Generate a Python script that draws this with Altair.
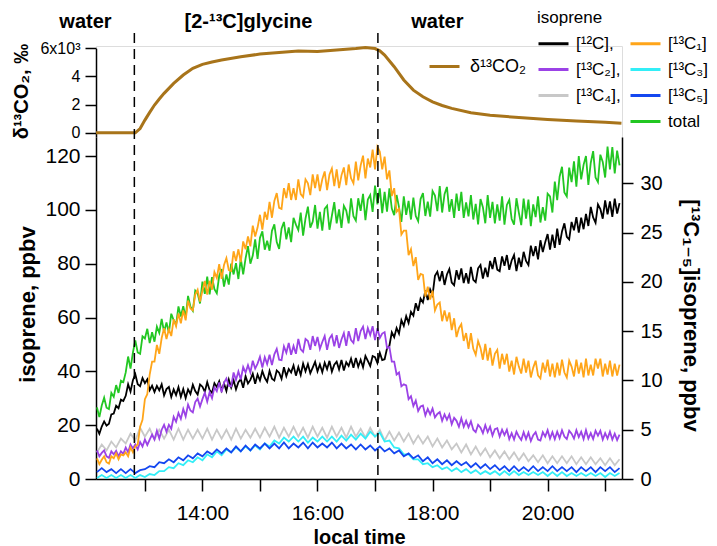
import altair as alt
import pandas as pd

FONT = "Liberation Sans, Arial, Helvetica, DejaVu Sans, sans-serif"

# ---------------- data ----------------
# isoprene records: regular samples starting at ISO_START
ISO_START = "12:10"
FINE_STEP_MIN = 2.5     # total, [12C], [13C1], [13C2]
COARSE_STEP_MIN = 5     # [13C3], [13C4], [13C5]

iso_total = [26.6, 23, 27.3, 30.2, 26.5, 26, 32, 30.5, 34.9, 32, 36.5, 36,
             39.6, 45.5, 41, 47, 51.5, 47, 46.5, 53, 52.2, 55.8, 50.5, 54.5,
             51, 56.6, 54.3, 59.5, 54.6, 58.2, 54.3, 61.4, 59, 57.3, 64.1, 60.4,
             64.2, 60, 68, 64, 62.5, 70, 69, 65.2, 73.3, 68.8, 75.2, 68.6,
             75, 70.5, 69, 75.5, 78, 71.5, 76, 72.2, 80, 76, 80.2, 74.3,
             81.9, 76, 82, 86.5, 80, 83, 89, 81.8, 89.6, 92, 85.2, 88.5,
             84.8, 92.2, 94.6, 88, 85.5, 93, 95.5, 89, 93.5, 88, 97, 94.5,
             92.5, 99, 90.4, 96.8, 101.2, 93.4, 95.6, 101.8, 93, 99.2, 92.3, 100.4,
             101.5, 92.6, 97.8, 102.9, 95, 100.2, 93.3, 101.5, 99.7, 95, 104.3, 97.6,
             96, 104.3, 99.6, 105.9, 96.2, 103.8, 105.5, 99.2, 109, 102, 108, 98.8,
             106.7, 99.3, 108, 100.5, 98, 105.5, 101, 95.5, 105, 98.1, 103.3, 96.4,
             104.5, 97.7, 95.8, 104, 106.2, 97.7, 103, 97.5, 107, 105.3, 99.5, 108.8,
             99, 105.8, 108.5, 99.3, 104, 97, 106, 99.6, 106.7, 97, 102.8, 97.6,
             105.5, 96.4, 102.2, 94.6, 104, 101, 95, 105.5, 97, 103, 95, 102,
             96, 105, 94.5, 101.8, 103.7, 96.6, 94.5, 104.3, 99, 94.3, 104.2, 96.7,
             103.8, 93.9, 102, 97.3, 105, 95.3, 101, 96, 106, 105, 99, 110.5,
             103.6, 112.3, 116, 106.5, 105, 115.7, 110.3, 118, 108.6, 120, 111.3, 116.7,
             120, 109.3, 117.5, 121.8, 112, 110.3, 120.5, 117.8, 112, 123.5, 115, 123.3,
             113.5, 122, 116.5]

iso_12c = [18.7, 16.8, 19.5, 21.4, 19.8, 20.5, 24, 24.3, 27.2, 26.3, 29.5, 29,
           30.9, 35.2, 32.5, 36.7, 38.9, 35.2, 34.5, 37.5, 35.6, 37, 33, 34.7,
           32.3, 34.6, 32.9, 35.2, 31.1, 33.4, 34.2, 30.5, 33.3, 31.2, 34.1, 30.5,
           33.4, 30.1, 33.3, 31.6, 35, 32.7, 31.4, 35.1, 34.3, 32.4, 36, 33,
           32, 35.6, 34.2, 36.3, 32.9, 35.5, 32.7, 36.9, 34, 36.7, 33.3, 36,
           37.1, 33.9, 38.2, 35.5, 36.8, 39.1, 35.4, 38.8, 36.6, 40.1, 37.6, 36.1,
           40.1, 37.3, 36.6, 40.3, 39.5, 37.2, 41.5, 38.2, 40.9, 39.6, 42.2, 38.4,
           41.6, 38.7, 42.9, 40, 42.7, 39.3, 41.4, 43.5, 40, 42.6, 39.7, 43.2,
           40.8, 43.9, 39.9, 42.5, 43.6, 40.7, 44.2, 40.3, 43.4, 42, 44.7, 41.3,
           45, 41.7, 44.3, 41.5, 45.7, 43.9, 42, 45.7, 45.3, 43.1, 46.9, 44.2,
           44.5, 48.5, 49.5, 54.5, 52.7, 56.1, 54, 59, 56.9, 60.5, 58, 62.1,
           60.7, 65.3, 62.5, 67, 65.6, 70, 66.5, 70.4, 68.3, 75.5, 77, 73.5,
           77.2, 72.1, 76, 78, 73, 72, 77.6, 74.1, 78.2, 72.8, 76.5, 72.6,
           78.8, 74, 73.1, 78.3, 79.5, 74.5, 78.5, 75, 81, 78, 82.4, 77.8,
           77.2, 82.7, 79.2, 83.2, 77.7, 81.2, 83.2, 77.2, 82.2, 78.8, 84.4, 81,
           79.5, 86.7, 82.8, 86.5, 81.6, 88.7, 84.3, 88, 91, 85.2, 90.8, 85.9,
           93, 87, 92, 95, 90, 89, 95.5, 92.4, 97.3, 91.5, 97.1, 92.8,
           98.5, 94, 101.1, 97.2, 95.2, 102, 100.3, 96.7, 103.5, 98.3, 103.1, 97.4,
           104.2, 98.6, 102.5]

iso_13c1 = [2.1, 1.5, 1.95, 2.3, 1.7, 1.55, 2.3, 2.1, 2.6, 2.0, 2.5, 2.4,
            2.7, 2.3, 3.2, 2.7, 3.3, 3.5, 5.3, 6.0, 8.1, 8.6, 10.6, 11.9,
            11.9, 13.6, 12.7, 14.3, 15.3, 14.2, 15.2, 14.5, 16.2, 15.5, 16.8, 15.8,
            17.1, 16.1, 18.1, 17.3, 17.1, 18.7, 19.2, 18, 19.1, 20.1, 18.7, 20.1,
            19.2, 21, 20.4, 21.8, 20.3, 21.7, 22.4, 21.2, 21.1, 23.1, 22.1, 23.3,
            22, 24.1, 23.3, 24.6, 23.6, 25.7, 24.6, 25.5, 26.8, 25.3, 27.1, 26.3,
            28.1, 26.5, 28.2, 29, 27.5, 27.4, 29.5, 28.5, 30, 28.3, 29.5, 28.3,
            30.4, 28.9, 28.6, 30.4, 30, 28.8, 30.9, 29.5, 30.9, 29.2, 30.4, 31.2,
            29.3, 30.9, 31.5, 29.7, 31.4, 29.5, 30.8, 31.6, 29.8, 31.9, 30.5, 30,
            32.2, 30.3, 31.8, 32.8, 30.5, 32.5, 31.6, 33.4, 31.4, 33.7, 33.2, 31.4,
            32.7, 30.4, 31.3, 28.7, 29.5, 27.1, 27.4, 24.8, 25.2, 25.2, 22.7, 23.3,
            21.6, 22.5, 20.2, 20.8, 20.7, 18.5, 19.5, 18.2, 19.1, 17.1, 17.7, 17.9,
            16, 17.1, 16, 16.9, 15.1, 16.3, 14.4, 15.3, 15.7, 14, 14.8, 13.2,
            14.8, 13.2, 12.6, 14, 13.3, 12.1, 13.7, 12, 13.3, 11.5, 12.7, 13.1,
            11.2, 12.7, 11.6, 12.7, 10.9, 12, 10.6, 12.4, 11.4, 10.7, 12.2, 10.8,
            12, 10.3, 11.3, 12, 10.5, 10.2, 11.8, 10.8, 12.1, 10.4, 11.7, 10.3,
            11.8, 10.5, 12.1, 10.8, 10.3, 12, 11.4, 10.4, 12.1, 10.7, 11.8, 10.3,
            12.2, 10.5, 11.6, 10.5, 12.2, 11.2, 12.2, 10.4, 11.7, 10.6, 12, 10.4,
            11.7, 10.5, 11.6]

iso_13c2 = [2.9, 2.3, 2.65, 2.9, 2.3, 2.15, 2.8, 2.5, 2.85, 2.3, 2.8, 2.55,
            3.2, 2.7, 3.5, 3.1, 3.5, 3.0, 3.75, 3.3, 4.0, 3.45, 4.0, 4.5,
            4.0, 4.9, 4.1, 5.0, 5.5, 4.8, 5.5, 5.1, 6.3, 5.8, 6.7, 6.1,
            7.1, 6.35, 7.55, 6.95, 6.75, 7.8, 8.15, 7.35, 8.1, 8.75, 7.85, 8.8,
            8.2, 9.3, 8.9, 9.8, 8.8, 9.75, 10.2, 9.45, 9.4, 10.8, 10.05, 10.9,
            10.1, 11.35, 10.8, 11.55, 10.8, 12.0, 11.2, 11.7, 12.4, 11.3, 12.35, 11.65,
            12.6, 11.55, 12.65, 13.2, 12.1, 12.05, 13.45, 12.8, 13.8, 12.6, 13.5, 12.7,
            14.2, 13.15, 12.9, 14.2, 14.0, 13.1, 14.5, 13.5, 14.4, 13.2, 13.9, 14.5,
            13.1, 14.25, 14.6, 13.45, 14.6, 13.3, 14.15, 14.8, 13.5, 15.0, 14.1, 13.8,
            15.3, 14.0, 15.0, 15.45, 14.2, 15.3, 14.6, 15.5, 14.1, 15.3, 14.3, 14.75,
            14.9, 13.3, 13.4, 11.9, 11.9, 10.6, 10.8, 9.4, 9.6, 9.5, 8.1, 8.4,
            7.4, 7.95, 6.9, 7.35, 7.45, 6.45, 7.1, 6.55, 7.15, 6.25, 6.6, 6.8,
            5.9, 6.55, 6.0, 6.55, 5.55, 6.2, 5.9, 5.3, 6.15, 5.3, 5.9, 5.25,
            5.85, 5.0, 4.75, 5.5, 5.2, 4.65, 5.45, 4.75, 5.3, 4.4, 5.05, 5.15,
            4.3, 5.0, 4.45, 5.0, 4.05, 4.65, 4.0, 4.8, 4.3, 3.95, 4.75, 4.05,
            4.7, 3.85, 4.45, 4.75, 4.0, 3.9, 4.75, 4.3, 4.95, 4.1, 4.75, 4.05,
            4.8, 4.15, 4.95, 4.3, 4.05, 4.9, 4.6, 4.1, 4.95, 4.25, 4.8, 4.05,
            4.95, 4.1, 4.65, 4.05, 4.9, 4.4, 4.9, 4.0, 4.65, 4.1, 4.8, 4.0,
            4.6, 3.95, 4.5]

iso_13c3 = [0.1, 0.4, 0.1, 0.4, 0.1, 0.4, 0.1, 0.4, 0.1, 0.4,
            0.2, 0.5, 0.4, 0.8, 0.8, 1.2, 1.1, 1.6, 1.4, 1.9,
            1.7, 2.2, 1.9, 2.5, 2.2, 2.8, 2.4, 3.0, 2.7, 3.2,
            2.8, 3.3, 2.9, 3.4, 3.0, 3.6, 3.3, 3.9, 3.6, 4.2,
            3.8, 4.3, 3.8, 4.3, 3.7, 4.2, 3.8, 4.3, 3.8, 4.3,
            3.8, 4.4, 3.9, 4.5, 4.0, 4.6, 4.1, 4.8, 4.3, 4.7,
            3.8, 3.9, 3.2, 3.1, 2.5, 2.5, 2.0, 2.0, 1.5, 1.6,
            1.2, 1.4, 1.0, 1.2, 0.8, 1.1, 0.7, 1.0, 0.6, 0.9,
            0.5, 0.8, 0.5, 0.8, 0.4, 0.8, 0.4, 0.8, 0.4, 0.7,
            0.4, 0.7, 0.4, 0.7, 0.3, 0.7, 0.3, 0.7, 0.3, 0.6,
            0.3, 0.6, 0.3, 0.6, 0.3, 0.6, 0.2, 0.6, 0.3, 0.6]

iso_13c4 = [2.7, 3.5, 2.9, 3.8, 3.2, 4.1, 3.6, 4.6, 3.9, 5.2,
            4.3, 5.1, 4.0, 5.0, 4.1, 5.0, 4.0, 5.1, 4.0, 5.0,
            4.1, 5.0, 4.1, 5.1, 4.0, 5.0, 4.1, 5.0, 4.0, 5.1,
            4.1, 5.0, 4.2, 5.1, 4.2, 5.2, 4.3, 5.3, 4.2, 5.2,
            4.3, 5.3, 4.3, 5.2, 4.2, 5.3, 4.3, 5.2, 4.2, 5.3,
            4.3, 5.2, 4.2, 5.3, 4.3, 5.1, 4.2, 5.2, 4.3, 5.0,
            3.9, 4.8, 3.9, 4.7, 3.8, 4.6, 3.6, 4.4, 3.6, 4.3,
            3.3, 4.1, 3.2, 3.9, 3.0, 3.6, 2.7, 3.5, 2.5, 3.3,
            2.4, 3.1, 2.2, 2.9, 2.1, 2.8, 2.0, 2.7, 1.9, 2.6,
            1.8, 2.4, 1.7, 2.4, 1.6, 2.3, 1.6, 2.3, 1.6, 2.3,
            1.5, 2.2, 1.5, 2.2, 1.5, 2.1, 1.4, 2.1, 1.4, 2.0]

iso_13c5 = [0.7, 1.1, 0.7, 1.0, 0.6, 1.0, 0.6, 1.0, 0.6, 0.9,
            1.0, 1.3, 1.2, 1.7, 1.6, 2.0, 1.7, 2.2, 1.9, 2.4,
            2.1, 2.6, 2.3, 2.8, 2.5, 3.0, 2.6, 3.1, 2.7, 3.3,
            2.8, 3.4, 2.9, 3.5, 3.1, 3.6, 3.1, 3.6, 3.1, 3.7,
            3.1, 3.6, 3.2, 3.7, 3.1, 3.7, 3.2, 3.6, 3.2, 3.7,
            3.1, 3.6, 3.1, 3.5, 3.0, 3.5, 3.0, 3.4, 2.9, 3.3,
            2.8, 3.1, 2.6, 2.9, 2.3, 2.6, 2.1, 2.4, 1.8, 2.2,
            1.6, 2.0, 1.5, 1.9, 1.4, 1.8, 1.4, 1.7, 1.2, 1.6,
            1.1, 1.5, 1.0, 1.4, 0.9, 1.3, 0.8, 1.3, 0.8, 1.2,
            0.8, 1.3, 0.8, 1.2, 0.8, 1.3, 0.8, 1.2, 0.8, 1.2,
            0.7, 1.2, 0.8, 1.2, 0.7, 1.2, 0.8, 1.2, 0.7, 1.1]

# legend labels; order fills the two legend columns top-to-bottom
# (the blank entry only pushes "total" into the second column)
NAME_12C, NAME_C1, NAME_C2, NAME_C3, NAME_C4, NAME_C5, NAME_TOT = (
    "[¹²C],", "[¹³C₁]", "[¹³C₂],", "[¹³C₃]", "[¹³C₄],", "[¹³C₅]", "total")
legend_order = [NAME_12C, NAME_C2, NAME_C4, " ", NAME_C1, NAME_C3, NAME_C5, NAME_TOT]
legend_colors = ["#000000", "#9B42E6", "#C8C8C8", "transparent",
                 "#FFA519", "#33EEF7", "#1447F0", "#22C722"]

co2_times = ["12:09", "12:30", "12:50", "12:55", "13:00", "13:05", "13:10", "13:15",
             "13:20", "13:30", "13:40", "13:50", "14:00", "14:10", "14:20", "14:40",
             "15:00", "15:20", "15:40", "16:00", "16:20", "16:40", "16:50", "17:00",
             "17:05", "17:10", "17:20", "17:30", "17:40", "17:50", "18:00", "18:10",
             "18:20", "18:40", "19:00", "19:30", "20:00", "20:30", "21:00", "21:17"]
co2_values = [0, 0, 0, 300, 900, 1450, 1970, 2400,
              2800, 3510, 4100, 4580, 4860, 5030, 5170, 5400,
              5590, 5710, 5800, 5780, 5880, 5980, 6050, 5980,
              5820, 5520, 4690, 3750, 3030, 2560, 2200, 1940,
              1730, 1420, 1240, 1090, 950, 830, 740, 670]
co2_name = "δ¹³CO₂"

phase_labels = ["water", "[2-¹³C]glycine", "water"]
phase_times = ["11:58", "14:48", "18:05"]
switch_times = ["12:49", "17:03"]

for arr in (iso_total, iso_12c, iso_13c1, iso_13c2):
    assert len(arr) == 219, len(arr)
for arr in (iso_13c3, iso_13c4, iso_13c5):
    assert len(arr) == 110, len(arr)


def to_hours(s):
    h, m = s.split(":")
    return int(h) + int(m) / 60.0


h0 = to_hours(ISO_START)


def frame(values, name, step):
    hours = [h0 + i * step / 60.0 for i in range(len(values))]
    return pd.DataFrame({"t": hours, "v": values, "series": name})


left_df = pd.concat([frame(iso_total, NAME_TOT, FINE_STEP_MIN),
                     frame(iso_12c, NAME_12C, FINE_STEP_MIN)])
right_df = pd.concat([frame(iso_13c4, NAME_C4, COARSE_STEP_MIN),
                      frame(iso_13c3, NAME_C3, COARSE_STEP_MIN),
                      frame(iso_13c5, NAME_C5, COARSE_STEP_MIN),
                      frame(iso_13c2, NAME_C2, FINE_STEP_MIN),
                      frame(iso_13c1, NAME_C1, FINE_STEP_MIN)])
co2_df = pd.DataFrame({"t": [to_hours(s) for s in co2_times], "v": co2_values, "name": co2_name})
phase_df = pd.DataFrame({"t": [to_hours(s) for s in phase_times], "label": phase_labels})
switch_df = pd.DataFrame({"t": [to_hours(s) for s in switch_times]})

# ---------------- geometry ----------------
W, H = 526, 433
X_DOMAIN = [12.15, 21.293]

common_axis = dict(domainColor="black", tickColor="black", domainWidth=1.5, tickWidth=1.5,
                   labelColor="black", titleColor="black", grid=False, labelFont=FONT,
                   titleFont=FONT, titleFontWeight="bold")

xscale = alt.Scale(domain=X_DOMAIN, nice=False, zero=False)
xaxis = alt.Axis(values=list(range(13, 22)),
                 labelExpr="datum.value % 2 == 0 ? datum.value + ':00' : ''",
                 title="local time", titleFontSize=20, titleY=64, titleBaseline="alphabetic",
                 labelFontSize=21, labelPadding=28, labelBaseline="alphabetic",
                 labelOverlap=False, labelFlush=False, tickSize=12, **common_axis)

X = alt.X("t:Q", scale=xscale, axis=xaxis)

color_scale = alt.Scale(domain=legend_order, range=legend_colors)
iso_legend = alt.Legend(title="isoprene", orient="none", legendX=441, legendY=-36, columns=2,
                        symbolType="stroke", symbolSize=900, symbolStrokeWidth=3,
                        labelFontSize=17, titleFontSize=17, titleFontWeight="normal",
                        labelFont=FONT, titleFont=FONT, labelColor="black", titleColor="black",
                        labelOffset=6, columnPadding=3, rowPadding=1, titlePadding=0, padding=0)

top = alt.Chart(co2_df).mark_line(strokeWidth=3).encode(
    x=X,
    y=alt.Y("v:Q",
            scale=alt.Scale(domain=[-300, 6000], range=[91, 2.3], nice=False, zero=False),
            axis=alt.Axis(orient="left", values=[0, 2000, 4000, 6000],
                          labelExpr="datum.value == 6000 ? '6x10³' : format(datum.value / 1000, 'd')",
                          title="δ¹³CO₂, ‰", titleFontSize=20, titleX=-69, titleY=45,
                          titleAngle=270, titleBaseline="alphabetic", titleAlign="center",
                          labelFontSize=16, labelPadding=5, tickSize=11, **common_axis)),
    stroke=alt.Stroke("name:N", scale=alt.Scale(domain=[co2_name], range=["#A8741A"]),
                      legend=alt.Legend(title=None, orient="none", legendX=332, legendY=4,
                                        symbolType="stroke", symbolSize=900, symbolStrokeWidth=3,
                                        labelFontSize=18, labelFont=FONT, labelColor="black",
                                        labelOffset=9, padding=0)),
)

left = alt.Chart(left_df).mark_line(strokeWidth=1.8).encode(
    x=X,
    y=alt.Y("v:Q",
            scale=alt.Scale(domain=[0, 127.06], range=[H, 91], nice=False, zero=False),
            axis=alt.Axis(orient="left", values=[0, 20, 40, 60, 80, 100, 120],
                          title="isoprene, ppbv", titleFontSize=22, titleX=-62, titleY=258,
                          titleAngle=270, titleBaseline="alphabetic", titleAlign="center",
                          labelFontSize=21, labelPadding=5, tickSize=11, **common_axis)),
    color=alt.Color("series:N", scale=color_scale, legend=iso_legend),
)

right = alt.Chart(right_df).mark_line(strokeWidth=1.8).encode(
    x=X,
    y=alt.Y("v:Q",
            scale=alt.Scale(domain=[0, 34.69], range=[H, 91], nice=False, zero=False),
            axis=alt.Axis(orient="right", values=[0, 5, 10, 15, 20, 25, 30],
                          title="[¹³C₁₋₅]isoprene, ppbv", titleFontSize=22, titleX=61, titleY=269,
                          titleAngle=90, titleBaseline="alphabetic", titleAlign="center",
                          labelFontSize=20, labelPadding=7, tickSize=11, **common_axis)),
    color=alt.Color("series:N", scale=color_scale, legend=iso_legend),
)

rules = alt.Chart(switch_df).mark_rule(color="black", strokeWidth=1.5, strokeDash=[10, 6]).encode(
    x=X, y=alt.value(-13), y2=alt.value(H),
)

texts = alt.Chart(phase_df).mark_text(font=FONT, fontSize=20, fontWeight="bold",
                                      color="black", baseline="middle").encode(
    x=X, y=alt.value(-24), text="label:N",
)

chart = alt.layer(top, left, right, rules, texts).resolve_scale(
    y="independent"
).properties(
    width=W, height=H,
    autosize=alt.AutoSizeParams(type="none"),
    padding={"left": 88, "top": 38, "right": 87, "bottom": 67},
).configure_view(stroke=None).configure(background="white")

chart.save("out.html", embed_options={"renderer": "svg", "actions": False})
